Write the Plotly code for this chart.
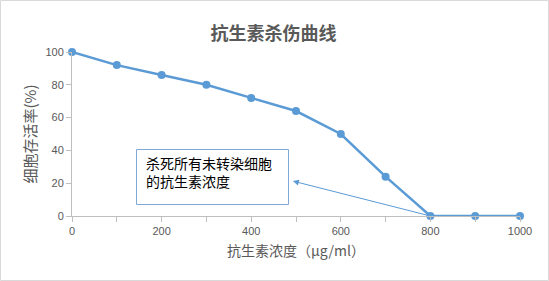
import plotly.graph_objects as go

concentration = [0, 100, 200, 300, 400, 500, 600, 700, 800, 900, 1000]
survival = [100, 92, 86, 80, 72, 64, 50, 24, 0, 0, 0]
x_ticks = [0, 200, 400, 600, 800, 1000]
y_ticks = [0, 20, 40, 60, 80, 100]

W, H = 549, 281
L, R, T, B = 72, 29, 52, 65
pw, ph = W - L - R, H - T - B

blue = "#5b9bd5"
grey = "#595959"
font_cn = "Noto Sans CJK SC"

fig = go.Figure()
fig.add_trace(go.Scatter(
    x=concentration, y=survival, mode="lines+markers",
    line=dict(color=blue, width=2.5),
    marker=dict(color=blue, size=8, symbol="circle"),
    cliponaxis=False, showlegend=False,
))

def px_x(p):
    return (p - L) / pw

def px_y(p):
    return (H - B - p) / ph

fig.update_layout(
    width=W, height=H,
    margin=dict(l=L, r=R, t=T, b=B),
    paper_bgcolor="white", plot_bgcolor="white",
    title=dict(text="<b>抗生素杀伤曲线</b>", x=px_x(273.5), xanchor="center",
               xref="paper", y=1 - 34 / H, yanchor="middle",
               font=dict(family=font_cn, size=18, color=grey)),
    xaxis=dict(range=[0, 1000], tickvals=x_ticks, showgrid=False, zeroline=False,
               showline=True, linecolor="#bfbfbf", linewidth=1,
               ticks="outside", ticklen=5, tickcolor="#bfbfbf",
               minor=dict(dtick=100, ticks="outside", ticklen=5, tickcolor="#bfbfbf"),
               tickfont=dict(family="Liberation Sans", size=11, color=grey),
               title=dict(text="抗生素浓度（μg/ml）", standoff=9,
                          font=dict(family=font_cn, size=14, color=grey))),
    yaxis=dict(range=[0, 100], tickvals=y_ticks, showgrid=False, zeroline=False,
               showline=True, linecolor="#bfbfbf", linewidth=1,
               ticks="outside", ticklen=5, tickcolor="#bfbfbf",
               tickfont=dict(family="Liberation Sans", size=11, color=grey),
               title=dict(text="细胞存活率(%)", standoff=5,
                          font=dict(family=font_cn, size=15, color=grey))),
    shapes=[
        dict(type="rect", xref="paper", yref="paper",
             x0=px_x(0.5), x1=px_x(W - 0.5), y0=px_y(H - 0.5), y1=px_y(0.5),
             line=dict(color="#d9d9d9", width=1)),
        dict(type="rect", xref="paper", yref="paper",
             x0=px_x(136.5), x1=px_x(288.5), y0=px_y(204.5), y1=px_y(149.5),
             line=dict(color="#7fa7d8", width=1), fillcolor="white", layer="above"),
    ],
)

# annotation text
fig.add_annotation(
    xref="paper", yref="paper",
    x=px_x(145), y=px_y(152), xanchor="left", yanchor="top",
    text="杀死所有未转染细胞<br>的抗生素浓度", align="left", showarrow=False,
    borderpad=0,
    font=dict(family=font_cn, size=14, color="black"),
)
# arrow from data point toward box
fig.add_annotation(
    x=493, y=21.3, xref="x", yref="y",
    ax=800, ay=0, axref="x", ayref="y",
    text="", showarrow=True, arrowhead=2, arrowsize=1.2, arrowwidth=1,
    arrowcolor=blue,
)

fig.write_html("out.html")
